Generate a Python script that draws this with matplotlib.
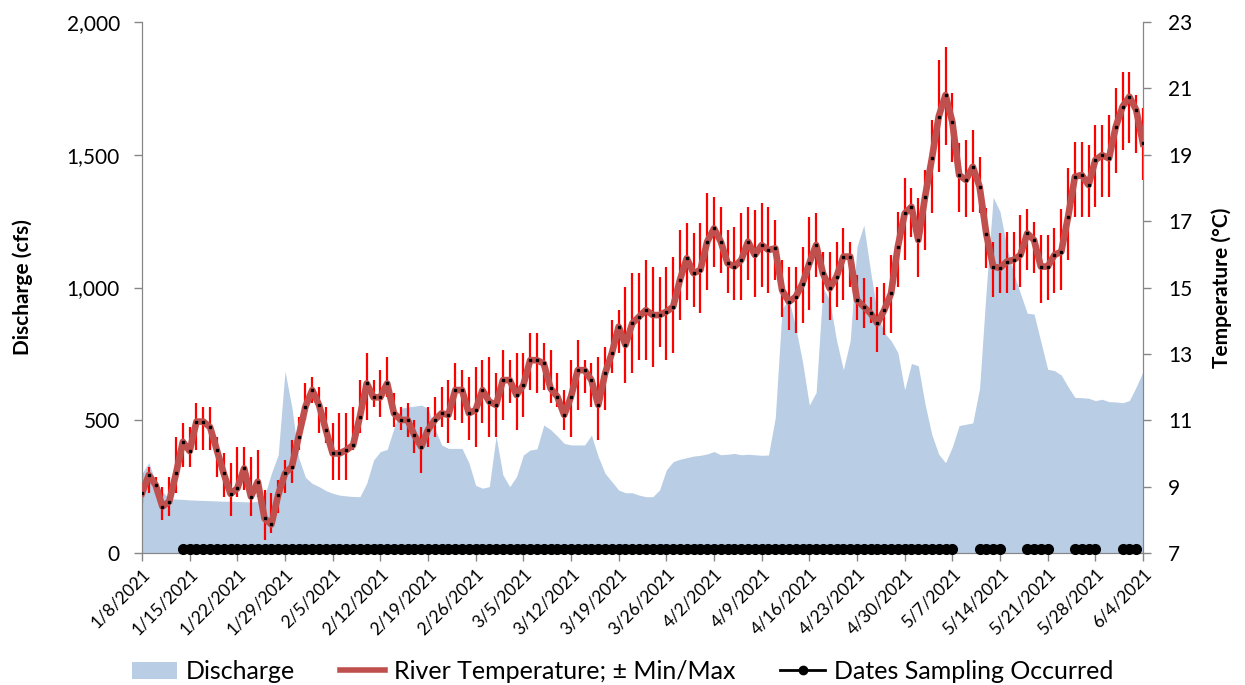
import matplotlib
matplotlib.use("Agg")
import matplotlib.pyplot as plt
from matplotlib.patches import Patch
from matplotlib.lines import Line2D
import numpy as np
import pandas as pd

plt.rcParams['font.family'] = ['Lato', 'DejaVu Sans']

# daily dates 1/8/2021 .. 6/4/2021
dates = pd.date_range("2021-01-08", "2021-06-04", freq="D")

discharge = [300, 340, 270, 230, 205, 203, 202, 200, 199, 198,
             197, 196, 195, 195, 194, 193, 192, 195, 215, 300,
             370, 685, 550, 360, 285, 262, 250, 235, 225, 218,
             215, 213, 212, 263, 350, 382, 390, 470, 545, 550,
             553, 557, 545, 470, 407, 394, 394, 394, 340, 255,
             244, 250, 440, 294, 250, 288, 369, 388, 392, 482,
             465, 440, 413, 407, 407, 407, 444, 363, 300, 269,
             237, 227, 227, 218, 212, 212, 237, 313, 344, 353,
             359, 365, 368, 373, 382, 370, 372, 375, 370, 372,
             370, 368, 369, 510, 920, 955, 850, 720, 557, 605,
             1000, 950, 800, 690, 800, 1154, 1235, 1060, 900, 830,
             800, 755, 615, 714, 705, 560, 445, 372, 340, 400,
             480, 485, 490, 620, 1000, 1340, 1286, 1154, 1053, 978,
             903, 900, 796, 692, 687, 670, 626, 586, 585, 583,
             574, 579, 570, 569, 566, 574, 626, 683]

temp = [8.80, 9.35, 9.05, 8.40, 8.55, 9.40, 10.35, 10.07, 10.96, 10.96,
        10.79, 10.10, 9.40, 8.78, 8.95, 9.55, 8.70, 9.15, 8.04, 7.86,
        8.75, 9.40, 9.60, 10.50, 11.41, 11.91, 11.46, 10.71, 10.00, 10.00,
        10.10, 10.25, 11.11, 12.11, 11.69, 11.69, 12.11, 11.21, 11.01, 11.01,
        10.55, 10.20, 10.71, 11.01, 11.21, 11.16, 11.91, 11.91, 11.21, 11.31,
        11.91, 11.56, 11.46, 12.21, 12.21, 11.76, 12.06, 12.81, 12.81, 12.71,
        11.96, 11.71, 11.16, 11.71, 12.51, 12.51, 12.21, 11.46, 12.41, 13.02,
        13.82, 13.27, 13.92, 14.12, 14.32, 14.17, 14.17, 14.27, 14.42, 15.23,
        15.88, 15.43, 15.53, 16.38, 16.78, 16.38, 15.73, 15.63, 15.83, 16.38,
        15.98, 16.28, 16.13, 16.18, 14.92, 14.57, 14.72, 15.12, 15.73, 16.28,
        15.43, 14.97, 15.33, 15.93, 15.93, 14.62, 14.42, 14.22, 13.92, 14.32,
        14.82, 16.23, 17.23, 17.43, 16.43, 17.74, 18.89, 20.15, 20.80, 19.99,
        18.39, 18.24, 18.64, 18.04, 16.60, 15.63, 15.59, 15.78, 15.83, 15.98,
        16.63, 16.43, 15.63, 15.63, 15.98, 16.08, 17.13, 18.34, 18.39, 18.09,
        18.84, 18.99, 18.89, 19.84, 20.45, 20.75, 20.35, 19.34]

temp_max = [9.40, 9.60, 9.30, 9.00, 9.30, 10.50, 10.91, 10.81, 11.51, 11.41,
            11.41, 10.51, 10.00, 9.70, 10.20, 10.20, 9.90, 10.10, 8.90, 8.80,
            9.20, 9.80, 10.40, 11.11, 12.11, 12.31, 12.01, 11.41, 10.91, 11.21,
            11.21, 11.41, 12.21, 13.02, 12.21, 12.51, 12.92, 11.81, 11.41, 11.51,
            11.01, 10.81, 11.41, 11.71, 12.01, 12.21, 12.71, 12.51, 12.31, 12.61,
            12.81, 12.91, 12.41, 13.12, 12.81, 13.02, 13.02, 13.62, 13.62, 13.32,
            13.12, 12.41, 11.91, 12.81, 13.42, 12.81, 12.71, 12.91, 13.22, 14.02,
            14.32, 15.02, 15.43, 15.43, 15.83, 15.63, 15.33, 15.63, 15.93, 16.73,
            16.93, 16.63, 16.93, 17.84, 17.74, 17.43, 16.73, 16.83, 17.23, 17.43,
            17.33, 17.54, 17.43, 17.03, 15.83, 15.63, 15.63, 16.23, 17.13, 17.23,
            16.08, 16.08, 16.38, 16.78, 16.38, 15.38, 15.28, 14.72, 15.02, 15.13,
            15.98, 17.28, 18.29, 17.99, 17.69, 18.54, 20.05, 21.85, 22.26, 20.85,
            19.34, 19.44, 19.75, 18.94, 17.40, 16.38, 16.63, 16.68, 16.68, 17.18,
            17.38, 16.98, 16.58, 16.58, 16.78, 17.38, 18.59, 19.39, 19.39, 19.29,
            19.90, 19.90, 20.20, 21.00, 21.50, 21.50, 20.80, 20.40]

temp_min = [8.50, 8.80, 8.80, 8.00, 8.10, 8.80, 9.60, 9.60, 10.10, 10.10,
            10.10, 9.30, 8.70, 8.10, 8.70, 8.90, 8.10, 8.70, 7.40, 7.60,
            8.20, 8.80, 9.10, 10.10, 11.01, 11.51, 10.61, 10.30, 9.20, 9.20,
            9.20, 10.10, 10.61, 11.00, 11.41, 11.11, 11.71, 10.81, 10.71, 10.50,
            10.00, 9.40, 10.20, 10.50, 10.81, 10.30, 11.01, 10.91, 10.40, 10.20,
            10.91, 10.51, 10.51, 11.01, 11.51, 10.71, 11.11, 11.91, 11.81, 11.91,
            11.51, 11.41, 10.71, 10.51, 11.31, 11.81, 11.41, 10.40, 11.31, 12.41,
            13.02, 12.11, 12.41, 12.81, 12.81, 12.61, 13.22, 12.82, 13.02, 14.02,
            14.62, 14.42, 14.22, 14.92, 15.63, 15.43, 14.82, 14.62, 14.62, 15.23,
            14.72, 15.02, 14.82, 15.23, 14.12, 13.72, 13.62, 13.92, 14.32, 15.33,
            14.52, 14.02, 14.42, 14.62, 15.03, 14.02, 13.77, 13.92, 13.07, 13.57,
            13.62, 15.02, 15.83, 16.53, 15.33, 16.13, 17.23, 18.49, 19.29, 18.79,
            17.28, 17.13, 17.28, 17.23, 15.60, 14.72, 14.82, 14.82, 14.92, 15.02,
            15.53, 15.43, 14.52, 14.62, 14.82, 14.92, 15.83, 17.13, 17.13, 17.13,
            17.43, 17.74, 17.74, 18.44, 19.14, 19.34, 19.04, 18.24]

# sampling dates as runs (first, last)
sampling_runs = [("2021-01-14", "2021-05-07"),
                 ("2021-05-11", "2021-05-14"),
                 ("2021-05-18", "2021-05-21"),
                 ("2021-05-25", "2021-05-28"),
                 ("2021-06-01", "2021-06-03")]
sample_level = 7.13

blue = "#B9CDE5"
red_line = "#C0504D"
gray = "#868686"

fig = plt.figure(figsize=(12.45, 6.85), dpi=100)
ax = fig.add_axes([142/1245, 1-553/685, (1143-142)/1245, (553-22)/685])
ax2 = ax.twinx()

ax.fill_between(dates, 0, discharge, color=blue, linewidth=0, zorder=1)
ax.set_ylim(0, 2000)
ax.set_yticks([0, 500, 1000, 1500, 2000])
ax.yaxis.set_major_formatter(matplotlib.ticker.FuncFormatter(lambda v, p: f"{int(v):,}"))
ax.set_xlim(dates[0], dates[-1])

tmin = np.array(temp_min)
tmax = np.array(temp_max)
t = np.array(temp)
ax2.vlines(dates, tmin, tmax, color="#FF0000", linewidth=1.6, zorder=2)
ax2.plot(dates, t, color=red_line, linewidth=4.8, zorder=3, solid_joinstyle='round')
ax2.plot(dates, t, linestyle='none', marker='s', markersize=1.6, color='black', zorder=4)
for a, b in sampling_runs:
    sd = pd.date_range(a, b, freq="D")
    ax2.plot(sd, [sample_level]*len(sd), color='black', marker='o', markersize=7,
             linewidth=1.5, zorder=5, clip_on=False)
ax2.set_ylim(7, 23)
ax2.set_yticks(range(7, 24, 2))

ticks = pd.date_range("2021-01-08", "2021-06-04", freq="7D")
ax.set_xticks(ticks)
ax.set_xticklabels([f"{d.month}/{d.day}/{d.year}" for d in ticks],
                   rotation=45, ha='right', rotation_mode='anchor', fontsize=12.5)

for a in (ax, ax2):
    for s in a.spines.values():
        s.set_color(gray)
    a.spines['top'].set_visible(False)
    a.tick_params(colors=gray, labelcolor='black', length=6, width=1)
ax.tick_params(axis='y', labelsize=15, pad=10)
ax2.tick_params(axis='y', labelsize=15, pad=12)
ax.tick_params(axis='x', pad=3)

ax.set_ylabel("Discharge (cfs)", fontsize=15, fontweight='bold', labelpad=24)
ax2.set_ylabel("Temperature (°C)", fontsize=15, fontweight='bold', labelpad=14)

handles = [Patch(facecolor=blue, edgecolor='none'),
           Line2D([0], [0], color=red_line, linewidth=4),
           Line2D([0], [0], color='black', marker='o', markersize=6, linewidth=2)]
labels = ["Discharge", "River Temperature; ± Min/Max", "Dates Sampling Occurred"]
fig.legend(handles, labels, loc='lower center', bbox_to_anchor=(0.5, -0.03), ncol=3,
           frameon=False, fontsize=18, columnspacing=1.8, handlelength=1.8, handletextpad=0.35)

fig.savefig("out.png", dpi=100)
